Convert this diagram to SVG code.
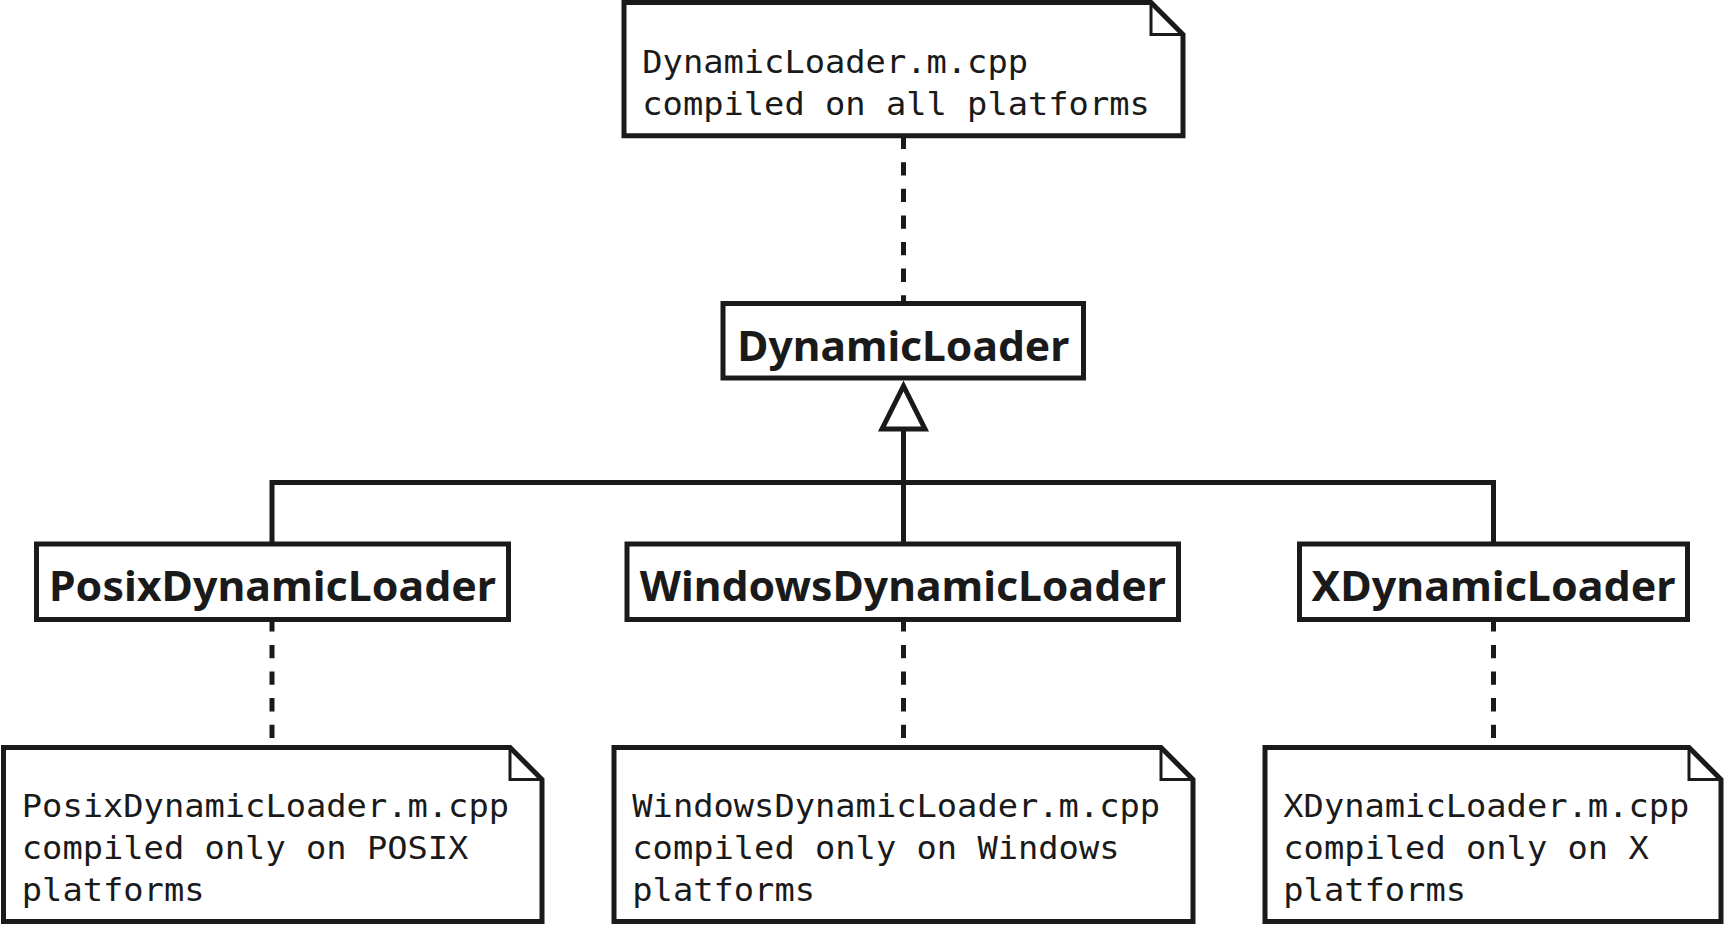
<svg xmlns="http://www.w3.org/2000/svg" width="1729" height="925" viewBox="0 0 1729 925">
<style>
.shape{fill:#fff;stroke:#1a1a1a;stroke-width:5;stroke-linejoin:miter}
.fold{fill:none;stroke:#1a1a1a;stroke-width:3}
.line{fill:none;stroke:#1a1a1a;stroke-width:5}
.dash{fill:none;stroke:#1a1a1a;stroke-width:5;stroke-dasharray:13.3 13.3}
.lbl{font-family:"Noto Sans","Open Sans","DejaVu Sans",sans-serif;font-weight:bold;font-size:41px;fill:#1a1a1a;text-anchor:middle}
.mono{font-family:"DejaVu Sans Mono","Liberation Mono",monospace;font-size:31.6px;fill:#1a1a1a}
</style>
<rect width="1729" height="925" fill="#fff"/>
<g id="connectors">
<path class="dash" d="M903.5,135.6 V303.5"/>
<path class="dash" d="M272,618.3 V747.5"/>
<path class="dash" d="M903.5,618.3 V747.5"/>
<path class="dash" d="M1493.5,618.3 V747.5"/>
<path class="line" d="M272,544 V482.5 H1493.5 V544"/>
<path class="line" d="M903.5,544 V429"/>
<polygon class="shape" points="903.5,386 882,429 925,429"/>
</g>
<g id="note-top">
<path class="shape" d="M624,2.5 H1151 L1183,34.5 V135.8 H624 Z"/>
<path class="fold" d="M1151,2.5 V34.5 H1183"/>
<text class="mono" x="642.3" y="73.3" textLength="385.7" lengthAdjust="spacingAndGlyphs">DynamicLoader.m.cpp</text>
<text class="mono" x="642.3" y="114.5" textLength="507.5" lengthAdjust="spacingAndGlyphs">compiled on all platforms</text>
</g>
<g id="DynamicLoader">
<rect class="shape" x="723" y="303.5" width="360.5" height="74.5"/>
<text class="lbl" x="903.3" y="360.7" textLength="332" lengthAdjust="spacingAndGlyphs">DynamicLoader</text>
</g>
<g id="PosixDynamicLoader">
<rect class="shape" x="36.5" y="544" width="472" height="75.5"/>
<text class="lbl" x="272.5" y="601" textLength="447" lengthAdjust="spacingAndGlyphs">PosixDynamicLoader</text>
</g>
<g id="WindowsDynamicLoader">
<rect class="shape" x="627" y="544" width="551.5" height="75.5"/>
<text class="lbl" x="902.75" y="601" textLength="526" lengthAdjust="spacingAndGlyphs">WindowsDynamicLoader</text>
</g>
<g id="XDynamicLoader">
<rect class="shape" x="1299.5" y="544" width="388" height="75.5"/>
<text class="lbl" x="1493.5" y="601" textLength="364" lengthAdjust="spacingAndGlyphs">XDynamicLoader</text>
</g>
<g id="note-posix">
<path class="shape" d="M3.5,747.5 H510 L542,779.5 V921.5 H3.5 Z"/>
<path class="fold" d="M510,747.5 V779.5 H542"/>
<text class="mono" x="21.8" y="817.3" textLength="487.2" lengthAdjust="spacingAndGlyphs">PosixDynamicLoader.m.cpp</text>
<text class="mono" x="21.8" y="859" textLength="446.6" lengthAdjust="spacingAndGlyphs">compiled only on POSIX</text>
<text class="mono" x="21.8" y="900.7" textLength="182.7" lengthAdjust="spacingAndGlyphs">platforms</text>
</g>
<g id="note-windows">
<path class="shape" d="M614,747.5 H1161 L1193,779.5 V921.5 H614 Z"/>
<path class="fold" d="M1161,747.5 V779.5 H1193"/>
<text class="mono" x="632.3" y="817.3" textLength="527.8" lengthAdjust="spacingAndGlyphs">WindowsDynamicLoader.m.cpp</text>
<text class="mono" x="632.3" y="859" textLength="487.2" lengthAdjust="spacingAndGlyphs">compiled only on Windows</text>
<text class="mono" x="632.3" y="900.7" textLength="182.7" lengthAdjust="spacingAndGlyphs">platforms</text>
</g>
<g id="note-x">
<path class="shape" d="M1265,747.5 H1689 L1721,779.5 V921.5 H1265 Z"/>
<path class="fold" d="M1689,747.5 V779.5 H1721"/>
<text class="mono" x="1283.3" y="817.3" textLength="406" lengthAdjust="spacingAndGlyphs">XDynamicLoader.m.cpp</text>
<text class="mono" x="1283.3" y="859" textLength="365.4" lengthAdjust="spacingAndGlyphs">compiled only on X</text>
<text class="mono" x="1283.3" y="900.7" textLength="182.7" lengthAdjust="spacingAndGlyphs">platforms</text>
</g>
</svg>
